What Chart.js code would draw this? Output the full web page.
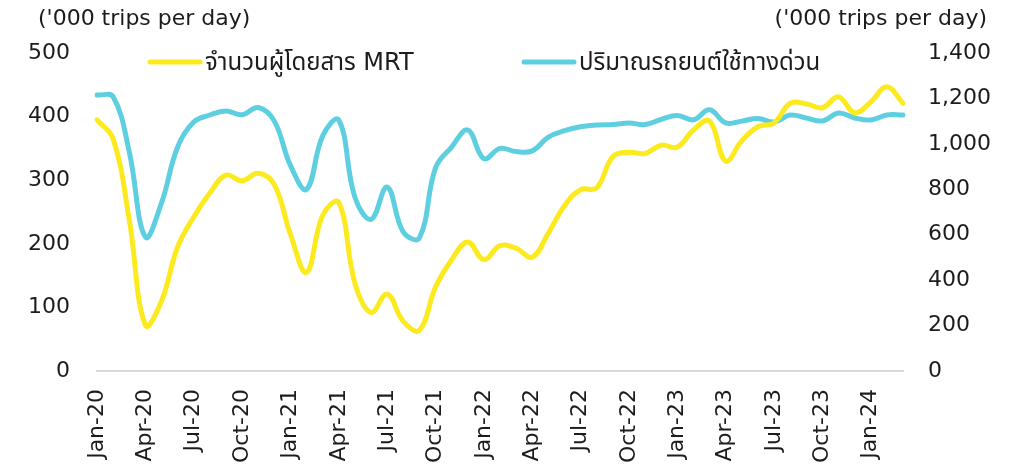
<!DOCTYPE html>
<html>
<head>
<meta charset="utf-8">
<script src="https://cdn.jsdelivr.net/npm/chart.js@4.4.1/dist/chart.umd.min.js"></script>
<style>
html,body{margin:0;padding:0;background:#ffffff;}
#c{display:block;}
</style>
</head>
<body>
<canvas id="c" width="1015" height="466"></canvas>
<script>
// ---------- data ----------
const months = [
  'Jan-20','Feb-20','Mar-20','Apr-20','May-20','Jun-20','Jul-20','Aug-20','Sep-20','Oct-20','Nov-20','Dec-20',
  'Jan-21','Feb-21','Mar-21','Apr-21','May-21','Jun-21','Jul-21','Aug-21','Sep-21','Oct-21','Nov-21','Dec-21',
  'Jan-22','Feb-22','Mar-22','Apr-22','May-22','Jun-22','Jul-22','Aug-22','Sep-22','Oct-22','Nov-22','Dec-22',
  'Jan-23','Feb-23','Mar-23','Apr-23','May-23','Jun-23','Jul-23','Aug-23','Sep-23','Oct-23','Nov-23','Dec-23',
  'Jan-24','Feb-24','Mar-24'
];
// MRT passengers ('000 trips per day) - left axis
const mrtPassengers = [
  395, 365, 238, 72, 110, 195, 242, 280, 308, 299, 311, 293,
  215, 155, 245, 265, 138, 92, 121, 78, 64, 132, 175, 203,
  175, 197, 193, 179, 217, 260, 285, 288, 337, 344, 342, 355,
  352, 379, 393, 330, 362, 384, 390, 421, 420, 414, 431, 406,
  423, 447, 421
];
// Expressway traffic ('000 trips per day) - right axis
const expresswayTraffic = [
  1215, 1207, 965, 590, 740, 986, 1096, 1127, 1145, 1128, 1160, 1100,
  905, 800, 1035, 1105, 765, 668, 810, 612, 586, 894, 986, 1061,
  935, 980, 966, 969, 1030, 1058, 1075, 1083, 1085, 1092, 1085, 1108,
  1125, 1106, 1150, 1092, 1100, 1112, 1096, 1127, 1114, 1101, 1136, 1114,
  1105, 1127, 1127
];
const seriesNames = ['จำนวนผู้โดยสาร MRT', 'ปริมาณรถยนต์ใช้ทางด่วน'];
const unitTitle = "('000 trips per day)";
const leftAxis = {min: 0, max: 500, step: 100};
const rightAxis = {min: 0, max: 1400, step: 200};
const labelEvery = 3;

// ---------- style ----------
const FAMILY = "'DejaVu Sans', 'Noto Sans Thai', 'Noto Sans', sans-serif";
const TEXT = '#1c1c1c';
const YELLOW = '#FCEA1E';
const CYAN = '#5DCFE0';

const overlay = {
  id: 'overlay',
  afterDraw(chart) {
    const ctx = chart.ctx;
    ctx.save();
    ctx.fillStyle = TEXT;
    ctx.font = '22px ' + FAMILY;
    ctx.textBaseline = 'alphabetic';
    ctx.textAlign = 'left';
    ctx.fillText(unitTitle, 38, 25);
    ctx.textAlign = 'right';
    ctx.fillText(unitTitle, 987, 25);
    const legendStart = [150, 524];
    ctx.font = '24px ' + FAMILY;
    chart.data.datasets.forEach((ds, i) => {
      const x0 = legendStart[i];
      ctx.strokeStyle = ds.borderColor;
      ctx.lineWidth = 5;
      ctx.lineCap = 'round';
      ctx.beginPath();
      ctx.moveTo(x0, 62);
      ctx.lineTo(x0 + 50, 62);
      ctx.stroke();
      ctx.textAlign = 'left';
      ctx.fillStyle = TEXT;
      ctx.fillText(ds.label, x0 + 55, 70);
    });
    ctx.restore();
  }
};

new Chart(document.getElementById('c'), {
  type: 'line',
  data: {
    labels: months,
    datasets: [
      {
        label: seriesNames[0],
        data: mrtPassengers,
        yAxisID: 'y',
        borderColor: YELLOW,
        borderWidth: 5,
        pointRadius: 0,
        tension: 0.4,
        fill: false,
        borderCapStyle: 'round',
        borderJoinStyle: 'round'
      },
      {
        label: seriesNames[1],
        data: expresswayTraffic,
        yAxisID: 'y1',
        borderColor: CYAN,
        borderWidth: 5,
        pointRadius: 0,
        tension: 0.4,
        fill: false,
        borderCapStyle: 'round',
        borderJoinStyle: 'round'
      }
    ]
  },
  options: {
    responsive: false,
    animation: false,
    devicePixelRatio: 1,
    layout: {padding: {top: 53, left: 0, right: 0, bottom: 0}},
    plugins: {
      legend: {display: false},
      tooltip: {enabled: false}
    },
    scales: {
      x: {
        type: 'category',
        offset: false,
        grid: {display: false, drawTicks: false},
        border: {display: true, color: '#d9d9d9', width: 2},
        ticks: {
          autoSkip: false,
          minRotation: 90,
          maxRotation: 90,
          padding: 18,
          color: TEXT,
          font: {size: 22, family: FAMILY},
          callback: (v, i) => (i % labelEvery === 0 ? months[i] : '')
        },
        afterFit: s => { s.height = 95; }
      },
      y: {
        position: 'left',
        min: leftAxis.min,
        max: leftAxis.max,
        grid: {display: false, drawTicks: false},
        border: {display: false},
        ticks: {
          stepSize: leftAxis.step,
          padding: 27,
          color: TEXT,
          font: {size: 22, family: FAMILY}
        },
        afterFit: s => { s.width = 97; }
      },
      y1: {
        position: 'right',
        min: rightAxis.min,
        max: rightAxis.max,
        grid: {display: false, drawTicks: false},
        border: {display: false},
        ticks: {
          stepSize: rightAxis.step,
          padding: 25,
          color: TEXT,
          font: {size: 22, family: FAMILY}
        },
        afterFit: s => { s.width = 112; }
      }
    }
  },
  plugins: [overlay]
});
</script>
</body>
</html>
